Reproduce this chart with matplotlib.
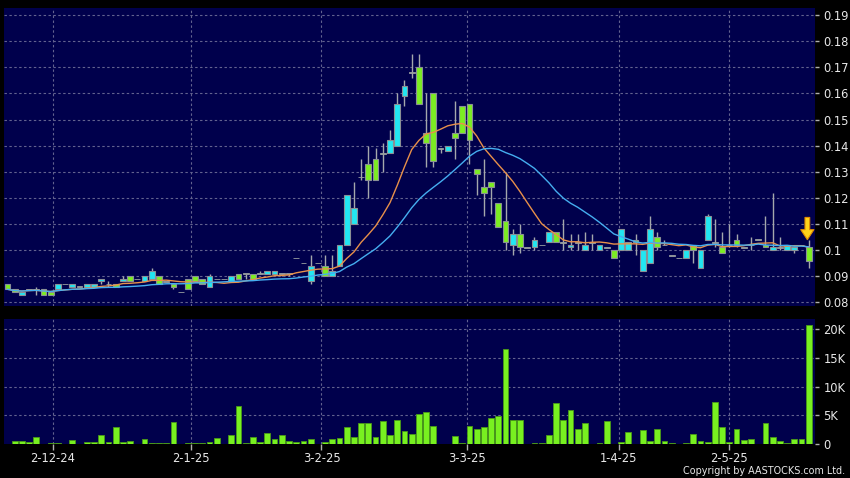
import matplotlib
matplotlib.use("Agg")
import matplotlib.pyplot as plt
import numpy as np
import pandas as pd

# ---------------- data ----------------
opens = [0.087, 0.085, 0.083, 0.085, 0.085, 0.085, 0.084, 0.085, 0.087, 0.086,
         0.086, 0.086, 0.086, 0.088, 0.087, 0.087, 0.088, 0.090, 0.089, 0.088,
         0.089, 0.090, 0.088, 0.087, 0.084, 0.089, 0.090, 0.089, 0.086, 0.089,
         0.089, 0.088, 0.091, 0.091, 0.091, 0.091, 0.091, 0.091, 0.091, 0.091,
         0.097, 0.095, 0.088, 0.095, 0.094, 0.090, 0.094, 0.102, 0.110, 0.128,
         0.133, 0.135, 0.137, 0.137, 0.140, 0.159, 0.168, 0.170, 0.145, 0.160,
         0.139, 0.138, 0.145, 0.155, 0.156, 0.131, 0.124, 0.126, 0.118, 0.111,
         0.102, 0.106, 0.101, 0.101, 0.102, 0.103, 0.107, 0.103, 0.101, 0.103,
         0.100, 0.103, 0.100, 0.101, 0.100, 0.100, 0.100, 0.104, 0.092, 0.095,
         0.105, 0.102, 0.098, 0.097, 0.097, 0.102, 0.093, 0.104, 0.103, 0.101,
         0.102, 0.104, 0.101, 0.102, 0.104, 0.102, 0.100, 0.101, 0.100, 0.100,
         0.102, 0.101]
highs = [0.087, 0.085, 0.084, 0.085, 0.086, 0.085, 0.084, 0.087, 0.087, 0.087,
         0.086, 0.087, 0.087, 0.089, 0.088, 0.087, 0.090, 0.090, 0.089, 0.090,
         0.093, 0.090, 0.088, 0.087, 0.084, 0.089, 0.090, 0.089, 0.091, 0.089,
         0.089, 0.090, 0.091, 0.091, 0.091, 0.092, 0.092, 0.092, 0.091, 0.091,
         0.097, 0.095, 0.098, 0.095, 0.098, 0.098, 0.102, 0.121, 0.126, 0.135,
         0.140, 0.139, 0.141, 0.146, 0.160, 0.165, 0.175, 0.175, 0.160, 0.160,
         0.139, 0.140, 0.157, 0.155, 0.156, 0.131, 0.135, 0.126, 0.118, 0.130,
         0.108, 0.110, 0.101, 0.105, 0.102, 0.107, 0.107, 0.112, 0.106, 0.106,
         0.107, 0.106, 0.102, 0.101, 0.100, 0.108, 0.103, 0.106, 0.100, 0.113,
         0.107, 0.104, 0.098, 0.097, 0.100, 0.102, 0.100, 0.114, 0.112, 0.107,
         0.110, 0.106, 0.101, 0.105, 0.104, 0.113, 0.122, 0.105, 0.102, 0.101,
         0.102, 0.104]
lows = [0.085, 0.084, 0.083, 0.085, 0.083, 0.083, 0.083, 0.085, 0.087, 0.086,
        0.086, 0.086, 0.086, 0.087, 0.086, 0.086, 0.088, 0.088, 0.089, 0.088,
        0.089, 0.087, 0.088, 0.085, 0.084, 0.085, 0.088, 0.087, 0.086, 0.089,
        0.089, 0.088, 0.089, 0.089, 0.089, 0.091, 0.091, 0.091, 0.090, 0.090,
        0.097, 0.095, 0.087, 0.095, 0.090, 0.090, 0.094, 0.102, 0.110, 0.127,
        0.120, 0.127, 0.130, 0.137, 0.140, 0.155, 0.166, 0.156, 0.132, 0.132,
        0.137, 0.138, 0.135, 0.145, 0.133, 0.121, 0.113, 0.114, 0.109, 0.100,
        0.098, 0.099, 0.101, 0.100, 0.102, 0.103, 0.103, 0.100, 0.100, 0.100,
        0.100, 0.100, 0.100, 0.101, 0.097, 0.100, 0.100, 0.098, 0.092, 0.095,
        0.100, 0.102, 0.098, 0.097, 0.097, 0.095, 0.093, 0.104, 0.101, 0.099,
        0.101, 0.101, 0.101, 0.100, 0.104, 0.101, 0.100, 0.100, 0.100, 0.099,
        0.102, 0.093]
closes = [0.085, 0.084, 0.084, 0.085, 0.085, 0.083, 0.083, 0.087, 0.087, 0.087,
          0.086, 0.087, 0.087, 0.089, 0.087, 0.086, 0.089, 0.088, 0.089, 0.090,
          0.092, 0.087, 0.088, 0.086, 0.084, 0.085, 0.088, 0.087, 0.090, 0.089,
          0.089, 0.090, 0.089, 0.091, 0.089, 0.091, 0.092, 0.092, 0.091, 0.091,
          0.097, 0.095, 0.094, 0.095, 0.090, 0.092, 0.102, 0.121, 0.116, 0.128,
          0.127, 0.127, 0.137, 0.142, 0.156, 0.163, 0.168, 0.156, 0.141, 0.134,
          0.139, 0.140, 0.143, 0.145, 0.142, 0.129, 0.122, 0.124, 0.109, 0.103,
          0.106, 0.101, 0.101, 0.104, 0.102, 0.107, 0.103, 0.103, 0.102, 0.103,
          0.102, 0.103, 0.102, 0.101, 0.097, 0.108, 0.103, 0.103, 0.100, 0.108,
          0.101, 0.102, 0.098, 0.097, 0.100, 0.100, 0.100, 0.113, 0.103, 0.099,
          0.102, 0.102, 0.101, 0.102, 0.104, 0.101, 0.101, 0.101, 0.102, 0.101,
          0.102, 0.096]
volume_k = [0.0, 0.53, 0.5, 0.35, 1.2, 0.0, 0.2, 0.1, 0.0, 0.7,
            0.05, 0.35, 0.3, 1.5, 0.4, 2.9, 0.4, 0.45, 0.0, 0.8,
            0.25, 0.1, 0.2, 3.9, 0.0, 0.2, 0.2, 0.2, 0.4, 1.1,
            0.0, 1.6, 6.6, 0.2, 1.2, 0.4, 2.0, 0.9, 1.5, 0.5,
            0.4, 0.5, 0.8, 0.0, 0.3, 0.9, 1.0, 2.9, 1.2, 3.7,
            3.6, 1.3, 4.0, 1.6, 4.1, 2.2, 1.8, 5.2, 5.6, 3.2,
            0.05, 0.05, 1.4, 0.15, 3.2, 2.6, 3.0, 4.6, 4.9, 16.5,
            4.2, 4.2, 0.0, 0.15, 0.1, 1.6, 7.1, 4.2, 6.0, 2.6,
            3.7, 0.0, 0.15, 4.0, 0.0, 0.35, 2.1, 0.0, 2.5, 0.5,
            2.6, 0.5, 0.2, 0.0, 0.15, 1.8, 0.6, 0.35, 7.3, 2.9,
            0.4, 2.7, 0.75, 0.8, 0.0, 3.6, 1.2, 0.45, 0.15, 0.95,
            0.9, 20.8]
date_labels = ["2-12-24", "2-1-25", "3-2-25", "3-3-25", "1-4-25", "2-5-25"]
date_index = [6.3, 25.4, 43.5, 63.6, 84.7, 99.9]
price_ticks = [0.08, 0.09, 0.10, 0.11, 0.12, 0.13, 0.14, 0.15, 0.16, 0.17, 0.18, 0.19]
price_tick_labels = ["0.08", "0.09", "0.1", "0.11", "0.12", "0.13", "0.14",
                     "0.15", "0.16", "0.17", "0.18", "0.19"]
vol_ticks_k = [0, 5, 10, 15, 20]
vol_tick_labels = ["0", "5K", "10K", "15K", "20K"]

# ---------------- style ----------------
BG = "#00004c"
GRID = "#62628f"
CYAN = "#22e6f2"
LIME = "#7ced22"
EDGE = "#8a9096"
WICK = "#a4a8ac"
TXT = "#e8e8e8"

W, H = 850, 478
fig = plt.figure(figsize=(W / 100, H / 100), dpi=100, facecolor="black")
ax1 = fig.add_axes([4 / W, 1 - 306 / H, 811 / W, 298 / H], facecolor=BG)
ax2 = fig.add_axes([4 / W, 1 - 444 / H, 811 / W, 125 / H], facecolor=BG, sharex=ax1)

o = np.array(opens); h = np.array(highs); l = np.array(lows); c = np.array(closes)
x = np.arange(len(o))

# candles
ax1.vlines(x, l, h, color=WICK, lw=1.0, zorder=2)
up = c > o
dn = c < o
eq = c == o
bw = 0.8
ax1.bar(x[up], (c - o)[up], bottom=o[up], width=bw, color=CYAN, edgecolor=EDGE, lw=0.8, zorder=3)
ax1.bar(x[dn], (o - c)[dn], bottom=c[dn], width=bw, color=LIME, edgecolor=EDGE, lw=0.8, zorder=3)
ax1.bar(x[eq], np.full(eq.sum(), 0.0002), bottom=c[eq] - 0.0001, width=bw,
        color="#9aa0a0", edgecolor="#9aa0a0", lw=0.6, zorder=3)

# moving averages
cs = pd.Series(closes)
ma10 = cs.rolling(10, min_periods=1).mean()
ma20 = cs.rolling(20, min_periods=1).mean()
ax1.plot(x, ma10, color="#e8904a", lw=1.0, zorder=4)
ax1.plot(x, ma20, color="#45aef0", lw=1.0, zorder=4)

# arrow on last candle
ax1.annotate("", xy=(x[-1] - 0.2, h[-1]), xytext=(0, 16), textcoords="offset points",
             arrowprops=dict(arrowstyle="simple,head_length=0.72,head_width=0.95,tail_width=0.34",
                             fc="#ffd21a", ec="#e08a00", lw=0.8, shrinkA=0, shrinkB=0),
             zorder=6)

# volume
ax2.bar(x, volume_k, width=bw, color="#78f020", edgecolor="#4a9a18", lw=0.6, zorder=3)

# axes ranges
ax1.set_xlim(-0.47, 111.86)
ax1.set_ylim(0.0786, 0.1927)
ax2.set_ylim(0, 21.8)

# grids
for ax in (ax1, ax2):
    for s in ax.spines.values():
        s.set_visible(False)
    for xi in date_index:
        ax.axvline(xi, color=GRID, lw=0.8, ls=(0, (2.2, 2.2)), zorder=1)
for yv in price_ticks:
    ax1.axhline(yv, color=GRID, lw=0.8, ls=(0, (2.2, 2.2)), zorder=1)
for yv in vol_ticks_k[1:]:
    ax2.axhline(yv, color=GRID, lw=0.8, ls=(0, (2.2, 2.2)), zorder=1)

# ticks
ax1.yaxis.tick_right()
ax1.set_yticks(price_ticks)
ax1.set_yticklabels(price_tick_labels)
ax2.yaxis.tick_right()
ax2.set_yticks(vol_ticks_k)
ax2.set_yticklabels(vol_tick_labels)
ax2.set_xticks(date_index)
ax2.set_xticklabels(date_labels)
ax1.tick_params(axis="x", which="both", bottom=False, labelbottom=False)
for ax in (ax1, ax2):
    ax.tick_params(axis="y", length=3, width=1, color="#b0b0b0", pad=3,
                   labelsize=8.3, labelcolor=TXT)
ax2.tick_params(axis="x", length=4, width=1, color="#b0b0b0", pad=2,
                labelsize=8.3, labelcolor=TXT)

fig.text(845 / W, 1 - 471.5 / H, "Copyright by AASTOCKS.com Ltd.", ha="right", va="center",
         fontsize=6.9, color=TXT)

fig.savefig("out.png", dpi=100, facecolor="black")
